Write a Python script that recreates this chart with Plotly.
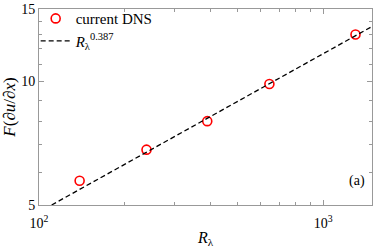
import plotly.graph_objects as go

# ---- data ----
re_lambda = [139, 239, 391, 647, 1300]
flatness = [5.73, 6.82, 8.0, 9.85, 13.0]

# power-law fit R^0.387 (straight line in log-log), endpoints
fit_x = [110.8, 1486]
fit_y = [5.0, 13.6]

FONT = "Liberation Serif"

fig = go.Figure()

fig.add_trace(go.Scatter(
    x=re_lambda, y=flatness, mode="markers",
    name="current DNS",
    marker=dict(symbol="circle-open", size=9, color="red", line=dict(width=1.6, color="red")),
))

fig.add_trace(go.Scatter(
    x=fit_x, y=fit_y, mode="lines",
    name="<i>R</i><sub>λ</sub><sup>0.387</sup>",
    line=dict(color="black", width=1.3, dash="5px,3px"),
))

fig.add_annotation(
    x=0.985, y=0.12, xref="paper", yref="paper",
    text="(a)", showarrow=False, xanchor="right", yanchor="middle",
    font=dict(family=FONT, size=14, color="black"),
)

axis_common = dict(
    type="log", showgrid=False, zeroline=False,
    showline=True, linecolor="#999999", linewidth=1, mirror="ticks",
    ticks="inside", ticklen=5, tickcolor="#999999",
    tickfont=dict(family=FONT, size=14, color="black"),
    ticklabeloverflow="allow",
)

fig.update_layout(
    width=374, height=248,
    margin=dict(l=39, r=2, t=5, b=43),
    plot_bgcolor="white", paper_bgcolor="white",
    showlegend=True,
    legend=dict(
        x=-0.01, y=1.035, xanchor="left", yanchor="top",
        bgcolor="rgba(0,0,0,0)", borderwidth=0,
        font=dict(family=FONT, size=15, color="black"),
        itemwidth=30, tracegroupgap=0,
    ),
    xaxis=dict(
        axis_common,
        range=[2, 3.172],
        tickvals=[100, 1000], ticktext=["10<sup>2</sup>", "10<sup>3</sup>"],
        ticklabelstandoff=5,
        minor=dict(tickvals=[200, 300, 400, 500, 600, 700, 800, 900],
                   ticks="inside", ticklen=3, tickcolor="#999999"),
        title=dict(text="<i>R</i><sub>λ</sub>", font=dict(family=FONT, size=16, color="black"), standoff=2),
    ),
    yaxis=dict(
        axis_common,
        range=[0.699, 1.1762],
        tickvals=[5, 10, 15], ticktext=["5", "10", "15"],
        minor=dict(tickvals=[6, 7, 8, 9, 11, 12, 13, 14],
                   ticks="inside", ticklen=3, tickcolor="#999999"),
        title=dict(text="<i>F</i>(∂<i>u</i>/∂<i>x</i>)", font=dict(family=FONT, size=17, color="black"), standoff=2),
    ),
)

fig.write_html("out.html", config={"displayModeBar": False},
               post_script="document.body.style.margin='0';")
